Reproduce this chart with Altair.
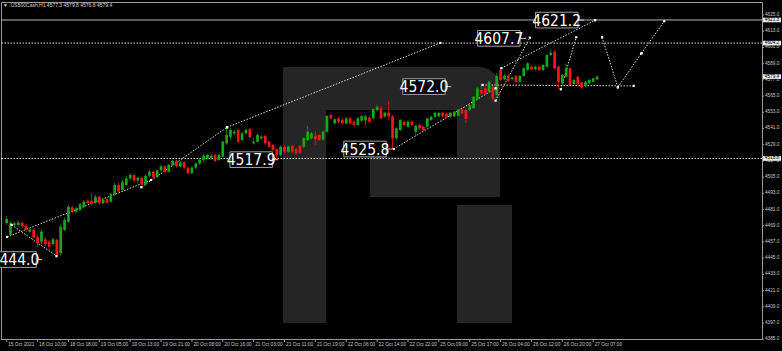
import altair as alt
import pandas as pd

# ---------------- data ----------------
opens = [4471.0,4462.2,4469.6,4469.6,4471.3,4469.0,4464.5,4466.0,4461.0,4457.2,
         4459.0,4457.2,4455.5,4458.5,4448.6,4465.9,4472.0,4482.6,4479.4,4480.7,
         4483.1,4487.5,4487.5,4486.0,4490.5,4485.6,4488.6,4486.8,4491.8,4499.2,
         4495.5,4499.2,4504.0,4506.5,4502.5,4504.5,4499.5,4506.0,4509.0,4505.0,
         4510.0,4513.0,4509.0,4514.0,4517.0,4513.0,4516.0,4512.0,4508.0,4512.0,
         4515.0,4517.7,4518.9,4519.0,4521.4,4517.7,4520.1,4530.0,4534.9,4537.4,
         4539.9,4532.5,4537.4,4540.4,4530.0,4531.2,4533.7,4535.5,4531.2,4528.8,
         4525.6,4521.4,4527.5,4523.8,4528.0,4525.6,4528.0,4527.5,4532.5,4533.7,
         4535.5,4536.2,4533.0,4538.6,4551.0,4544.8,4548.5,4547.3,4544.8,4548.5,
         4546.0,4543.6,4546.8,4547.0,4549.0,4548.5,4554.7,4556.0,4549.7,4552.7,
         4550.0,4533.7,4539.9,4546.0,4542.3,4546.0,4538.6,4543.6,4542.3,4542.3,
         4547.3,4549.7,4550.0,4552.7,4552.0,4549.7,4550.0,4550.5,4555.2,4554.7,
         4554.7,4556.0,4562.6,4569.5,4570.7,4568.2,4572.0,4566.0,4584.3,4577.5,
         4580.0,4577.5,4579.9,4575.6,4579.9,4584.3,4586.7,4584.8,4586.7,4584.3,
         4586.7,4595.4,4597.8,4586.7,4574.4,4579.3,4585.5,4573.9,4579.3,4575.0,
         4572.4,4574.4,4575.6,4577.3]
highs = [4476.2,4472.5,4472.0,4473.0,4472.5,4470.0,4467.0,4467.5,4462.0,4466.0,
         4461.0,4458.5,4460.0,4459.5,4470.0,4475.0,4484.5,4484.0,4483.0,4486.0,
         4488.0,4488.5,4493.5,4492.0,4491.5,4489.0,4489.5,4493.5,4501.0,4501.0,
         4503.0,4506.0,4508.0,4507.5,4505.5,4505.5,4507.0,4510.5,4510.0,4511.0,
         4514.5,4514.0,4515.0,4518.0,4518.0,4517.0,4517.0,4513.0,4513.0,4516.0,
         4519.0,4522.0,4522.5,4522.0,4522.5,4522.5,4532.0,4541.9,4541.0,4540.0,
         4541.0,4538.5,4541.0,4541.5,4534.0,4537.5,4536.0,4536.5,4532.0,4529.5,
         4526.5,4528.5,4528.5,4528.5,4529.0,4526.5,4529.0,4534.5,4542.8,4538.5,
         4538.9,4537.0,4539.5,4551.0,4552.0,4548.5,4549.5,4548.0,4549.5,4549.5,
         4547.0,4549.5,4551.0,4551.0,4550.5,4556.0,4558.4,4557.5,4553.5,4560.8,
         4551.0,4542.0,4548.0,4547.0,4547.0,4547.0,4544.0,4544.5,4543.0,4549.0,
         4550.5,4553.5,4553.5,4553.5,4553.0,4553.5,4554.0,4555.5,4556.0,4555.5,
         4559.0,4565.0,4571.5,4573.2,4571.5,4576.5,4573.0,4582.0,4584.9,4581.0,
         4581.0,4579.5,4580.5,4580.5,4586.5,4590.0,4587.5,4587.5,4587.5,4588.5,
         4596.0,4599.6,4599.0,4587.5,4581.5,4589.2,4586.5,4577.5,4580.0,4575.5,
         4576.0,4577.5,4578.5,4579.8]
lows = [4469.6,4461.4,4468.0,4468.5,4467.5,4464.5,4463.5,4459.0,4453.5,4455.5,
        4454.0,4451.0,4454.0,4445.0,4447.0,4465.0,4471.0,4478.0,4478.5,4480.0,
        4482.0,4485.0,4484.0,4485.0,4484.5,4485.0,4485.0,4486.0,4491.0,4493.0,
        4495.0,4498.5,4502.5,4501.0,4500.5,4497.5,4499.0,4505.0,4504.0,4504.5,
        4509.0,4508.0,4508.5,4513.0,4512.0,4512.0,4511.0,4507.0,4507.0,4511.0,
        4514.0,4516.5,4518.0,4518.0,4516.0,4517.0,4519.5,4529.0,4533.0,4536.0,
        4530.0,4531.5,4536.5,4533.5,4529.0,4530.5,4532.5,4529.0,4526.5,4524.0,
        4518.0,4520.5,4522.5,4523.0,4522.5,4521.5,4522.0,4526.5,4531.5,4533.0,
        4528.8,4531.5,4532.0,4538.0,4547.5,4544.0,4545.0,4544.0,4544.0,4544.0,
        4542.5,4543.0,4546.0,4543.6,4545.0,4547.5,4554.0,4547.5,4549.0,4547.0,
        4525.8,4532.5,4539.0,4542.5,4541.5,4542.5,4535.0,4540.0,4539.0,4541.5,
        4546.5,4549.0,4549.5,4549.0,4548.5,4549.0,4549.5,4550.0,4551.5,4545.0,
        4554.0,4555.5,4562.0,4566.0,4566.0,4567.5,4561.6,4563.0,4576.0,4576.5,
        4575.5,4576.5,4575.0,4575.0,4579.0,4583.5,4584.0,4584.0,4583.5,4583.5,
        4586.0,4594.5,4585.0,4570.0,4573.5,4578.5,4572.5,4573.0,4573.0,4570.5,
        4571.5,4574.0,4575.0,4576.8]
closes = [4474.0,4471.0,4470.8,4471.3,4468.8,4465.9,4466.2,4460.4,4456.0,4464.6,
          4455.5,4453.5,4459.0,4447.4,4468.3,4473.3,4483.0,4479.4,4481.9,4484.9,
          4486.8,4486.0,4485.0,4490.5,4485.6,4488.1,4486.0,4492.5,4499.2,4494.3,
          4501.6,4504.0,4506.5,4502.5,4504.5,4499.5,4506.0,4509.0,4505.0,4510.0,
          4513.0,4509.0,4514.0,4517.0,4513.0,4516.0,4512.0,4508.0,4512.0,4515.0,
          4517.7,4520.9,4521.4,4521.0,4517.0,4521.4,4531.2,4536.2,4539.9,4538.6,
          4531.2,4537.4,4539.9,4534.5,4531.2,4536.2,4534.9,4530.0,4527.5,4525.1,
          4521.4,4527.5,4523.8,4527.5,4523.8,4522.6,4523.1,4533.7,4538.6,4537.4,
          4533.0,4532.5,4538.6,4550.2,4548.5,4547.8,4546.0,4544.8,4548.5,4544.8,
          4543.6,4548.5,4550.2,4550.0,4546.0,4555.2,4557.1,4548.5,4552.7,4550.0,
          4533.7,4541.1,4547.3,4543.6,4546.0,4543.6,4543.0,4541.1,4539.9,4548.5,
          4549.7,4552.7,4552.5,4550.0,4549.3,4552.7,4553.4,4554.7,4552.2,4548.0,
          4558.4,4564.5,4570.7,4567.0,4567.0,4575.6,4563.0,4580.0,4576.9,4580.0,
          4576.2,4578.7,4575.6,4579.9,4585.5,4589.2,4584.8,4586.7,4584.3,4588.0,
          4595.4,4597.0,4585.5,4575.6,4580.6,4585.5,4573.2,4576.9,4573.9,4571.5,
          4575.6,4576.9,4578.1,4579.4]

time_labels = ["15 Oct 2021", "18 Oct 10:00", "18 Oct 18:00", "19 Oct 05:00",
               "19 Oct 13:00", "19 Oct 21:00", "20 Oct 08:00", "20 Oct 16:00",
               "21 Oct 03:00", "21 Oct 11:00", "21 Oct 19:00", "22 Oct 06:00",
               "22 Oct 14:00", "22 Oct 22:00", "25 Oct 09:00", "25 Oct 17:00",
               "26 Oct 04:00", "26 Oct 12:00", "26 Oct 20:00", "27 Oct 07:00"]
time_label_bars = [0, 8, 16, 24, 32, 40, 48, 56, 64, 72, 80, 88, 96, 104,
                   112, 120, 128, 136, 144, 152]
price_ticks = [4385.0, 4397.0, 4409.0, 4421.0, 4433.0, 4445.0, 4457.0, 4469.0,
               4481.0, 4493.0, 4505.0, 4517.0, 4529.0, 4541.0, 4553.0, 4565.0,
               4577.0, 4589.0, 4601.0, 4613.0, 4625.0]

solid_levels = [4621.3]
dotted_levels = [4604.2, 4518.8]
axis_marker_prices = [4621.3, 4604.2, 4579.4, 4518.8]

# dotted wave / channel segments (bar index, price)
seg_i1 = [0.1, 1.3, 34.9, 57.1, 100.3, 126.7, 128.2, 143.6, 154.3, 158.4, 164.5, 123.3]
seg_p1 = [4460.7, 4469.6, 4497.5, 4541.9, 4525.8, 4561.6, 4585.6, 4570.0, 4608.5, 4571.5, 4596.6, 4573.2]
seg_i2 = [37.4, 12.9, 57.1, 112.4, 126.7, 135.6, 152.5, 147.6, 158.4, 164.5, 170.4, 162.5]
seg_p2 = [4502.9, 4446.6, 4541.9, 4604.3, 4570.7, 4608.2, 4621.1, 4608.5, 4571.5, 4596.6, 4620.4, 4572.5]

label_text = ["4444.0", "4517.9", "4525.8", "4572.0", "4607.7", "4621.2"]
label_bar = [9.2, 70.4, 99.9, 115.2, 134.6, 149.6]
label_price = [4444.0, 4517.9, 4525.8, 4572.0, 4607.7, 4621.2]

symbol_name = ".US500Cash,H1"

# ---------------- tables ----------------
n = len(opens)
candles = pd.DataFrame({"i": list(range(n)), "o": opens, "h": highs, "l": lows, "c": closes})
candles["dir"] = ["up" if c >= o else "down" for o, c in zip(opens, closes)]
segs = pd.DataFrame({"i1": seg_i1, "p1": seg_p1, "i2": seg_i2, "p2": seg_p2})
pts = pd.DataFrame({"i": seg_i1 + seg_i2, "p": seg_p1 + seg_p2})
labels = pd.DataFrame({"i": label_bar, "p": label_price, "t": label_text})
ticks_df = pd.DataFrame({"i": time_label_bars, "t": time_labels})
yticks_df = pd.DataFrame({"p": price_ticks, "t": [f"{v:.1f}" for v in price_ticks]})
markers = pd.DataFrame({"p": axis_marker_prices, "t": [f"{v:.1f}" for v in axis_marker_prices]})
title_df = pd.DataFrame({"t": [f"\u25BC {symbol_name}  {opens[-1]:.1f} {highs[-1]:.1f} {lows[-1]:.1f} {closes[-1]:.1f}"]})

W, H = 761, 337
XDOM = [-0.18, 194.45]
YDOM = [4385.2, 4634.6]
xs = alt.Scale(domain=XDOM, nice=False, zero=False)
ys = alt.Scale(domain=YDOM, nice=False, zero=False)
GREEN = "#16a816"
RED = "#ff1414"
color_scale = alt.Scale(domain=["up", "down"], range=[GREEN, RED])
LOGO = "#252525"
DOT = "#d8d8d8"
AXC = "#c8c8c8"
FRAME = "#9a9a9a"
LABEL_FONT = "Liberation Sans Narrow, Arial Narrow, DejaVu Sans Condensed, Liberation Sans, sans-serif"
SMALL_FONT = "Liberation Sans, Arial, sans-serif"

def X(f="i"):
    return alt.X(f"{f}:Q", scale=xs, axis=None)

def Y(f):
    return alt.Y(f"{f}:Q", scale=ys, axis=None)

# watermark logo (decoration)
logo_df = pd.DataFrame({"k": [0]})
logo_parts = [
    (282, 325, 65, 321, 0),
    (282, 499, 65, 108, 34),
    (456, 499, 65, 195, 34),
    (369, 499, 155, 195, 0),
    (456, 511, 203, 321, 0),
]
logo_layers = []
for x1, x2, y1, y2, r in logo_parts:
    kw = dict(color=LOGO)
    if r:
        kw["cornerRadiusTopRight"] = r
    logo_layers.append(
        alt.Chart(logo_df).mark_rect(**kw).encode(
            x=alt.value(x1), x2=alt.value(x2), y=alt.value(y1), y2=alt.value(y2)))

base = alt.Chart(candles)
wicks = base.mark_rule(strokeWidth=1, opacity=0.75).encode(
    x=X("i"), y=Y("l"), y2="h:Q",
    color=alt.Color("dir:N", scale=color_scale, legend=None))
bodies = base.mark_bar(size=2.7).encode(
    x=X(), y=Y("o"), y2="c:Q",
    color=alt.Color("dir:N", scale=color_scale, legend=None))

solid = alt.Chart(pd.DataFrame({"p": solid_levels})).mark_rule(color="#b8b8b8", strokeWidth=1).encode(y=Y("p"))
dotted = alt.Chart(pd.DataFrame({"p": dotted_levels})).mark_rule(
    color=DOT, strokeWidth=1, strokeDash=[1.5, 1.5]).encode(y=Y("p"))
waves = alt.Chart(segs).mark_rule(color=DOT, strokeWidth=1, strokeDash=[1.5, 1.5]).encode(
    x=X("i1"), x2="i2:Q", y=Y("p1"), y2="p2:Q")
dots = alt.Chart(pts).mark_square(size=5, color="#ffffff", opacity=1).encode(x=X("i"), y=Y("p"))

pointer = alt.Chart(labels).mark_rule(color="#c8c8c8", strokeWidth=1, xOffset=-6, x2Offset=0).encode(
    x=X("i"), x2="i:Q", y=Y("p"))
boxes = alt.Chart(labels).mark_point(
    shape="M-1,-0.37H1V0.37H-1Z", size=1800, filled=True, fill="#000000",
    stroke="#a0a0a0", strokeWidth=1, opacity=1, xOffset=-27.2).encode(x=X("i"), y=Y("p"))
texts = alt.Chart(labels).mark_text(
    dx=-27.2, dy=0.5, align="center", baseline="middle", fontSize=15.5,
    font=LABEL_FONT, color="#ffffff").encode(x=X("i"), y=Y("p"), text="t:N")

# time axis: ticks below the frame and left-aligned labels
xt = alt.Chart(ticks_df).mark_rule(color=FRAME, strokeWidth=1).encode(
    x=X("i"), y=alt.value(H), y2=alt.value(H + 3))
xl = alt.Chart(ticks_df).mark_text(
    align="left", baseline="top", fontSize=4.8, color=AXC, dx=1.5,
    font=SMALL_FONT).encode(x=X("i"), y=alt.value(H + 3), text="t:N")
# price axis on the right
yt = alt.Chart(yticks_df).mark_rule(color=FRAME, strokeWidth=1).encode(
    y=Y("p"), x=alt.value(W), x2=alt.value(W + 2))
yl = alt.Chart(yticks_df).mark_text(
    align="left", baseline="middle", fontSize=4.7, color=AXC, dx=0,
    font=SMALL_FONT).encode(y=Y("p"), x=alt.value(W + 3), text="t:N")

mk_box = alt.Chart(markers).mark_point(
    shape="M-1,-0.26H1V0.26H-1Z", size=324, filled=True, fill="#e8e8e8", opacity=1,
    strokeWidth=0).encode(x=alt.value(771), y=Y("p"))
mk_txt = alt.Chart(markers).mark_text(
    fontSize=4.7, color="#000000", align="center", baseline="middle",
    font=SMALL_FONT).encode(x=alt.value(771), y=Y("p"), text="t:N")

title_txt = alt.Chart(title_df).mark_text(
    align="left", baseline="middle", fontSize=5, color="#d0d0d0",
    font=SMALL_FONT).encode(x=alt.value(2), y=alt.value(3), text="t:N")

chart = alt.layer(
    *logo_layers, solid, dotted, waves, wicks, bodies, dots, pointer, boxes, texts,
    xt, xl, yt, yl, mk_box, mk_txt, title_txt
).properties(
    width=W, height=H, background="#000000",
    padding={"left": 1, "top": 2, "right": 20, "bottom": 12},
    autosize=alt.AutoSizeParams(type="none"),
).configure_view(stroke=FRAME, strokeWidth=1)

chart.save("out.html", embed_options={"renderer": "svg", "actions": False})
